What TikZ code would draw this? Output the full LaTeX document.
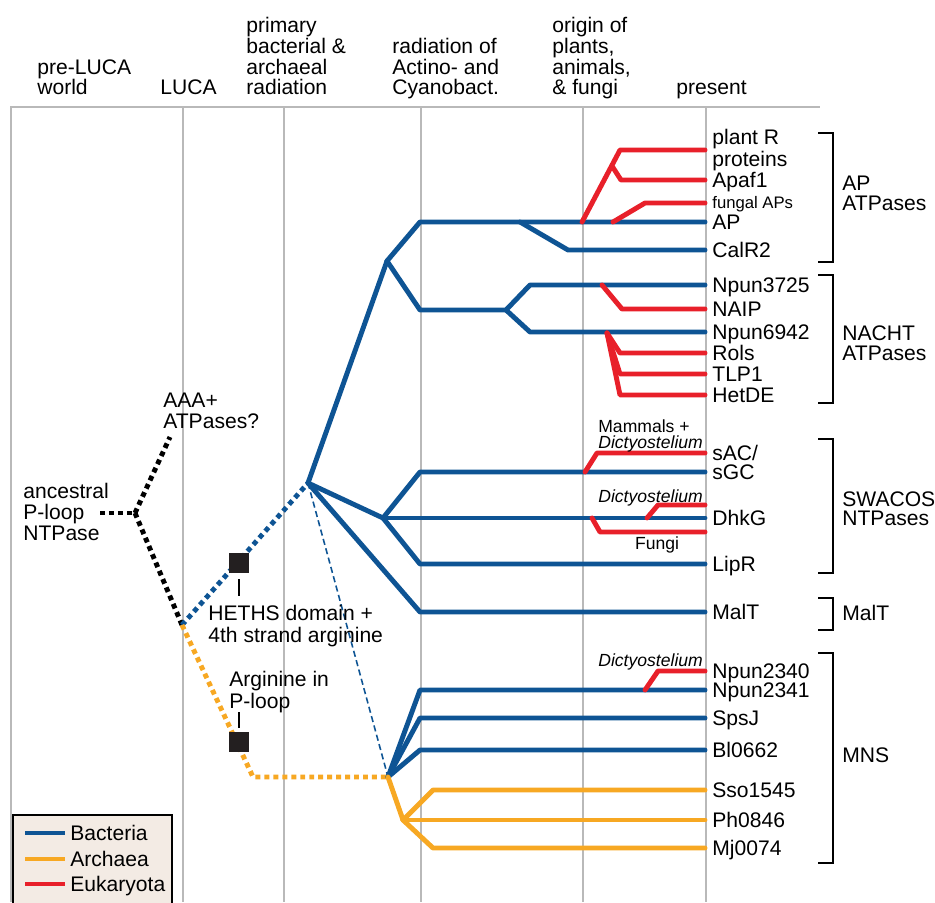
\documentclass[tikz,border=0pt]{standalone}
\usepackage{fontspec}
\setmainfont{Liberation Sans}
\usetikzlibrary{positioning,calc}
\definecolor{bactblue}{RGB}{14,84,148}
\definecolor{archorange}{RGB}{247,168,35}
\definecolor{eukred}{RGB}{232,32,42}
\definecolor{gridgray}{RGB}{185,185,185}
\definecolor{legfill}{RGB}{243,235,228}
\definecolor{sqblack}{RGB}{35,31,32}
\tikzset{
  bact/.style={draw=bactblue, line width=2.8pt, line cap=round, line join=round},
  arch/.style={draw=archorange, line width=2.8pt, line cap=round, line join=round},
  euk/.style={draw=eukred, line width=2.8pt, line cap=round, line join=round},
  dotblk/.style={draw=black, line width=2.8pt, dash pattern=on 2.8pt off 2.3pt},
  dotbact/.style={dotblk, draw=bactblue},
  dotarch/.style={dotblk, draw=archorange},
  thindash/.style={draw=bactblue, line width=0.9pt, dash pattern=on 3.5pt off 2pt},
  gline/.style={draw=gridgray, line width=0.6pt},
  hdr/.style={anchor=base west, align=left, inner sep=0pt, font=\fontsize{12}{11.9}\selectfont},
  leaf/.style={anchor=west, inner xsep=4pt, inner ysep=0pt, text height=8.6pt, text depth=0pt, font=\fontsize{12}{12}\selectfont},
  leaftwo/.style={anchor=west, align=left, inner xsep=4pt, inner ysep=0pt, font=\fontsize{12}{10.3}\selectfont},
  grp/.style={anchor=west, align=left, inner sep=0pt, font=\fontsize{12}{11.5}\selectfont},
  lbl/.style={anchor=west, align=left, inner sep=0pt, font=\fontsize{12}{12.2}\selectfont},
  note/.style={inner sep=0pt, font=\fontsize{10}{9.6}\selectfont},
  brk/.style={draw=black, line width=0.85pt},
  sq/.style={fill=sqblack, minimum size=11.3pt, inner sep=0pt},
  stem/.style={draw=black, line width=0.85pt},
}

\begin{document}
\begin{tikzpicture}[x=0.02cm, y=-0.02cm]
\useasboundingbox (0,0) rectangle (935,902);

% time columns
\draw[gline] (11,107) -- (11,902);
\draw[gline] (183,107) -- (183,902);
\draw[gline] (284,107) -- (284,902);
\draw[gline] (421,107) -- (421,902);
\draw[gline] (583,107) -- (583,902);
\draw[gline] (706,107) -- (706,902);
\draw[draw=gridgray, line width=1.4pt] (10,107) -- (820,107);

% headers
\node[hdr] (hPre) at (37,95) {pre-LUCA\\world};
\node[hdr] (hLuca) at (160,95) {LUCA};
\node[hdr] (hPrim) at (246,95) {primary\\bacterial \&\\archaeal\\radiation};
\node[hdr] (hRad) at (392,95) {radiation of\\Actino- and\\Cyanobact.};
\node[hdr] (hOrig) at (552,95) {origin of\\plants,\\animals,\\\& fungi};
\node[hdr] (hNow) at (676,95) {present};

% leaves
\node[leaftwo] (plantR) at (705,150) {plant R\\proteins};
\node[leaf] (Apaf) at (705,180) {Apaf1};
\node[leaf, font=\fontsize{9.5}{9.5}\selectfont, text height=6.8pt] (fungal) at (705,203) {fungal APs};
\node[leaf] (AP) at (705,222) {AP};
\node[leaf] (CalR2) at (705,250) {CalR2};
\node[leaf] (Npun3725) at (705,285) {Npun3725};
\node[leaf] (NAIP) at (705,309) {NAIP};
\node[leaf] (Npun6942) at (705,332) {Npun6942};
\node[leaf] (Rols) at (705,353) {Rols};
\node[leaf] (TLP1) at (705,374) {TLP1};
\node[leaf] (HetDE) at (705,395) {HetDE};
\node[leaf] (sAC) at (705,453) {sAC/};
\node[leaf] (sGC) at (705,472) {sGC};
\node[leaf] (DhkG) at (705,518) {DhkG};
\node[leaf] (LipR) at (705,564) {LipR};
\node[leaf] (MalT) at (705,612) {MalT};
\node[leaf] (Npun2340) at (705,671) {Npun2340};
\node[leaf] (Npun2341) at (705,690) {Npun2341};
\node[leaf] (SpsJ) at (705,718) {SpsJ};
\node[leaf] (Bl) at (705,750) {Bl0662};
\node[leaf] (Sso) at (705,790) {Sso1545};
\node[leaf] (Ph) at (705,820) {Ph0846};
\node[leaf] (Mj) at (705,848) {Mj0074};

% groups
\node[grp] (gAP) at (842,193) {AP\\ATPases};
\node[grp] (gNACHT) at (842,343) {NACHT\\ATPases};
\node[grp, font=\fontsize{12}{10.8}\selectfont] (gSW) at (842,509) {SWACOS\\NTPases};
\node[grp] (gMalT) at (842,613) {MalT};
\node[grp] (gMNS) at (842,755) {MNS};
\draw[brk] (818,133) -| (833,262) -- (818,262);
\draw[brk] (818,275) -| (833,403) -- (818,403);
\draw[brk] (818,439) -| (833,573) -- (818,573);
\draw[brk] (818,598) -| (833,630) -- (818,630);
\draw[brk] (818,653) -| (833,863) -- (818,863);

% branch points
\coordinate (ancEnd) at (100,513);
\coordinate (n0) at (135,513);
\coordinate (aaaEnd) at (170,437);
\coordinate (luca) at (182,625);
\coordinate (nB) at (308,483);
\coordinate (oBend) at (253,777);
\coordinate (nM) at (388,777);
\coordinate (n1) at (387,261);
\coordinate (sCal) at (520,222);
\coordinate (n3) at (506,310);
\coordinate (n4) at (383,518);
\coordinate (nA) at (403,820);

% early lineages
\draw[dotblk] (ancEnd) -- (n0);
\draw[dotblk] (n0) -- (aaaEnd);
\draw[dotblk] (n0) -- (luca);
\draw[dotbact] (luca) -- (nB);
\draw[dotarch] (luca) -- (oBend) -- (nM);
\draw[thindash] (nB) -- (nM);

% bacteria
\draw[bact] (nB) -- (n1);
\draw[bact] (n1) -- (420,0 |- AP.west) -- (AP.west);
\draw[bact] (sCal) -- (568,0 |- CalR2.west) -- (CalR2.west);
\draw[bact] (n1) -- (420,0 |- n3) -- (n3);
\draw[bact] (n3) -- (530,0 |- Npun3725.west) -- (Npun3725.west);
\draw[bact] (n3) -- (530,0 |- Npun6942.west) -- (Npun6942.west);
\draw[bact] (nB) -- (n4);
\draw[bact] (n4) -- (420,0 |- sGC.west) -- (sGC.west);
\draw[bact] (n4) -- (DhkG.west);
\draw[bact] (n4) -- (420,0 |- LipR.west) -- (LipR.west);
\draw[bact] (nB) -- (420,0 |- MalT.west) -- (MalT.west);
\draw[bact] (nM) -- (420,0 |- Npun2341.west) -- (Npun2341.west);
\draw[bact] (nM) -- (420,0 |- SpsJ.west) -- (SpsJ.west);
\draw[bact] (nM) -- (420,0 |- Bl.west) -- (Bl.west);

% archaea
\draw[arch] (nM) -- (nA);
\draw[arch] (nA) -- (433,0 |- Sso.west) -- (Sso.west);
\draw[arch] (nA) -- (Ph.west);
\draw[arch] (nA) -- (433,0 |- Mj.west) -- (Mj.west);

% eukaryota
\coordinate (eP) at (582,222);
\coordinate (eApaf) at (612,166);
\coordinate (eFun) at (613,222);
\coordinate (eNAIP) at (602,285);
\coordinate (eRols) at (607,333);
\coordinate (eSac) at (585,472);
\coordinate (eDh1) at (647,518);
\coordinate (eDh2) at (592,518);
\coordinate (eNp) at (645,690);
\coordinate (dhUp) at (705,505);
\coordinate (dhLo) at (705,532);
\draw[euk] (eP) -- (620,0 |- plantR.west) -- (plantR.west);
\draw[euk] (eApaf) -- (621,0 |- Apaf.west) -- (Apaf.west);
\draw[euk] (eFun) -- (645,0 |- fungal.west) -- (fungal.west);
\draw[euk] (eNAIP) -- (622,0 |- NAIP.west) -- (NAIP.west);
\draw[euk] (eRols) -- (620,0 |- Rols.west) -- (Rols.west);
\draw[euk] (eRols) -- (620,0 |- TLP1.west) -- (TLP1.west);
\draw[euk] (eRols) -- (620,0 |- HetDE.west) -- (HetDE.west);
\draw[euk] (eSac) -- (597,0 |- sAC.west) -- (sAC.west);
\draw[euk] (eDh1) -- (658,0 |- dhUp) -- (dhUp);
\draw[euk] (eDh2) -- (600,0 |- dhLo) -- (dhLo);
\draw[euk] (eNp) -- (658,0 |- Npun2340.west) -- (Npun2340.west);

% notes
\node[note, anchor=west, align=left] (nMam) at (598,436) {Mammals +\\\textit{Dictyostelium}};
\node[note, anchor=base west] (nDic1) at (598,502) {\textit{Dictyostelium}};
\node[note, anchor=base] (nFungi) at (657,549) {Fungi};
\node[note, anchor=base west] (nDic2) at (598,666) {\textit{Dictyostelium}};

% left labels and markers
\node[lbl] (anc) at (23,512) {ancestral\\P-loop\\NTPase};
\node[lbl] (aaa) at (163,411) {AAA+\\ATPases?};
\node[sq] (sq1) at (239,563) {};
\node[sq] (sq2) at (239,742) {};
\node[lbl] (heths) at (208,626) {HETHS domain +\\4th strand arginine};
\node[lbl] (argin) at (229,692) {Arginine in\\P-loop};
\draw[stem] (sq1.south) ++(0,6) -- ++(0,17);
\draw[stem] (sq2.north) ++(0,-4) -- ++(0,-16);

% legend
\draw[draw=black, fill=legfill, line width=1pt] (13,815) rectangle (172,912);
\node[leaf, inner xsep=0pt] (lgB) at (70,833) {Bacteria};
\node[leaf, inner xsep=0pt] (lgA) at (70,859) {Archaea};
\node[leaf, inner xsep=0pt] (lgE) at (70,884) {Eukaryota};
\draw[bact, line cap=butt] ([xshift=-3pt]lgB.west) -- ++(-40,0);
\draw[arch, line cap=butt] ([xshift=-3pt]lgA.west) -- ++(-40,0);
\draw[euk, line cap=butt] ([xshift=-3pt]lgE.west) -- ++(-40,0);

\end{tikzpicture}
\end{document}
